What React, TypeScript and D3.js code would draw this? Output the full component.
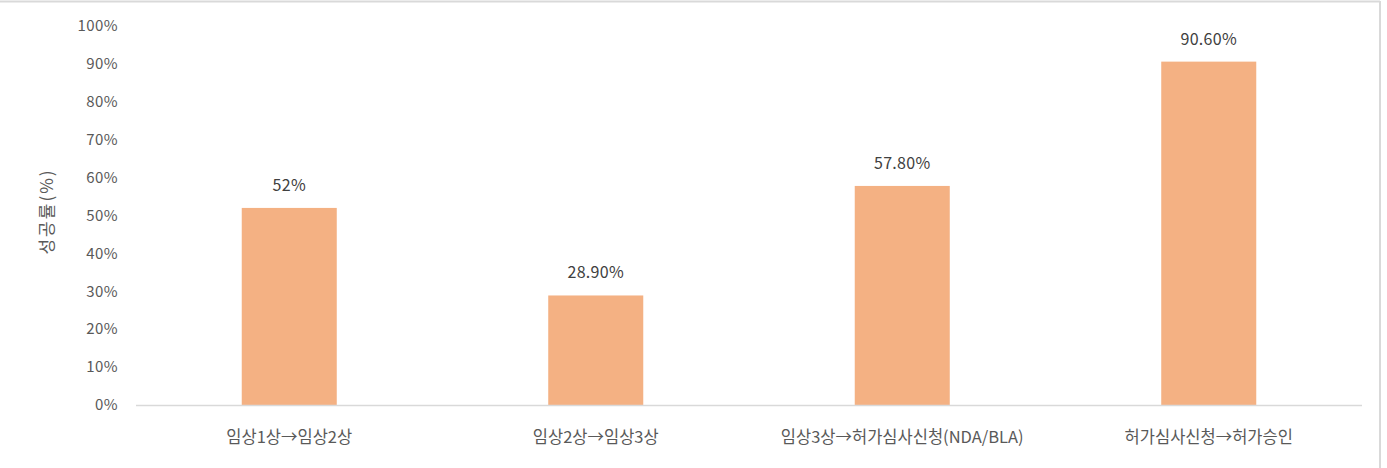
import React, { useEffect, useRef } from "react";
import * as d3 from "d3";

const categories = ["임상1상→임상2상", "임상2상→임상3상", "임상3상→허가심사신청(NDA/BLA)", "허가심사신청→허가승인"];
const values = [52, 28.9, 57.8, 90.6];
const valueLabels = ["52%", "28.90%", "57.80%", "90.60%"];
const yTicks = [0, 10, 20, 30, 40, 50, 60, 70, 80, 90, 100];
const yTitle = "성공률(%)";

const W = 1387;
const H = 468;
const FONT = "'Noto Sans CJK KR', 'Noto Sans', sans-serif";

export default function App() {
  const ref = useRef<SVGSVGElement>(null);
  useEffect(() => {
    const svg = d3.select(ref.current);
    svg.selectAll("*").remove();
    const x = d3.scaleBand<string>().domain(categories).range([136, 1362]).paddingInner(0.69).paddingOuter(0.345);
    const y = d3.scaleLinear().domain([0, 100]).range([405, 26]);

    svg.append("rect").attr("width", W).attr("height", H).attr("fill", "#fff");
    // frame
    svg.append("line").attr("x1", 0).attr("x2", 1380).attr("y1", 1.5).attr("y2", 1.5).attr("stroke", "#d9d9d9").attr("stroke-width", 2);
    svg.append("line").attr("x1", 1380).attr("x2", 1380).attr("y1", 1).attr("y2", H).attr("stroke", "#d9d9d9").attr("stroke-width", 2);

    // y ticks
    svg.append("g").selectAll("text").data(yTicks).join("text")
      .attr("x", 118).attr("y", (d) => y(d)).attr("dy", "0.35em")
      .attr("text-anchor", "end").attr("font-family", FONT).attr("font-size", 15)
      .attr("letter-spacing", 0.4)
      .attr("fill", "#595959").text((d) => `${d}%`);

    // y title
    svg.append("text").attr("transform", `translate(47,${y(50) - 4}) rotate(-90)`)
      .attr("text-anchor", "middle").attr("dy", "0.35em")
      .attr("font-family", FONT).attr("font-size", 17).attr("letter-spacing", 2)
      .attr("fill", "#595959").text(yTitle);

    // bars
    svg.append("g").selectAll("rect").data(values).join("rect")
      .attr("x", (_d, i) => x(categories[i])!).attr("width", x.bandwidth())
      .attr("y", (d) => y(d)).attr("height", (d) => y(0) - y(d)).attr("fill", "#F4B183");

    // axis line
    svg.append("line").attr("x1", 136).attr("x2", 1362).attr("y1", y(0) + 0.5).attr("y2", y(0) + 0.5)
      .attr("stroke", "#d9d9d9").attr("stroke-width", 1.5);

    // data labels
    svg.append("g").selectAll("text").data(values).join("text")
      .attr("x", (_d, i) => x(categories[i])! + x.bandwidth() / 2).attr("y", (d) => y(d) - 17)
      .attr("text-anchor", "middle").attr("font-family", FONT).attr("font-size", 16)
      .attr("letter-spacing", 0.3)
      .attr("fill", "#404040").text((_d, i) => valueLabels[i]);

    // category labels
    svg.append("g").selectAll("text").data(categories).join("text")
      .attr("x", (d) => x(d)! + x.bandwidth() / 2).attr("y", 443)
      .attr("text-anchor", "middle").attr("font-family", FONT).attr("font-size", 16.5)
      .attr("fill", "#595959").text((d) => d);
  }, []);
  return (
    <svg ref={ref} width={W} height={H} style={{ position: "absolute", left: 0, top: 0, display: "block" }} />
  );
}
